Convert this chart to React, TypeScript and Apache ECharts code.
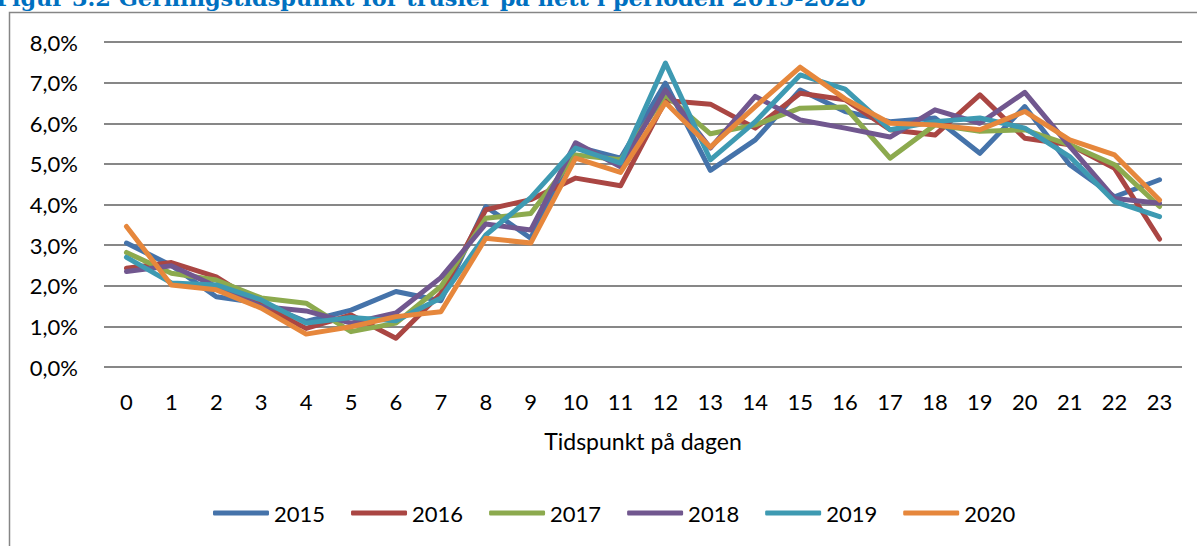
import React, { useEffect, useRef } from "react";
import * as echarts from "echarts";

const hours = ["0","1","2","3","4","5","6","7","8","9","10","11","12","13","14","15","16","17","18","19","20","21","22","23"];
const seriesNames = ["2015", "2016", "2017", "2018", "2019", "2020"];
const colors = ["#4573AA", "#AA4643", "#8CAA4E", "#71578F", "#3E9AB2", "#E6873C"];

const v2015 = [3.05, 2.5, 1.73, 1.57, 1.12, 1.4, 1.86, 1.63, 3.95, 3.17, 5.43, 5.14, 6.99, 4.84, 5.59, 6.82, 6.29, 6.04, 6.13, 5.26, 6.41, 4.98, 4.19, 4.61];
const v2016 = [2.43, 2.57, 2.22, 1.53, 0.95, 1.28, 0.71, 1.81, 3.87, 4.12, 4.65, 4.46, 6.56, 6.47, 5.88, 6.74, 6.58, 5.84, 5.71, 6.7, 5.63, 5.47, 4.89, 3.15];
const v2017 = [2.82, 2.31, 2.14, 1.7, 1.57, 0.87, 1.08, 1.98, 3.66, 3.78, 5.22, 5.1, 6.7, 5.74, 5.96, 6.37, 6.4, 5.14, 5.96, 5.8, 5.84, 5.47, 4.98, 3.95];
const v2018 = [2.35, 2.49, 1.98, 1.49, 1.38, 1.08, 1.33, 2.2, 3.52, 3.37, 5.52, 4.93, 6.82, 5.39, 6.66, 6.08, 5.88, 5.66, 6.33, 6.0, 6.76, 5.43, 4.15, 4.03];
const v2019 = [2.7, 2.07, 2.02, 1.65, 1.08, 1.22, 1.14, 1.7, 3.25, 4.17, 5.39, 5.02, 7.48, 5.1, 6.04, 7.19, 6.84, 5.84, 6.04, 6.13, 5.88, 5.18, 4.07, 3.7];
const v2020 = [3.46, 2.02, 1.9, 1.45, 0.81, 0.99, 1.24, 1.36, 3.17, 3.05, 5.14, 4.79, 6.51, 5.41, 6.41, 7.38, 6.6, 6.0, 5.96, 5.84, 6.29, 5.59, 5.22, 4.11];
const allValues = [v2015, v2016, v2017, v2018, v2019, v2020];

const yMin = 0;
const yMax = 8;
const yInterval = 1;
const titleText = "Figur 3.2 Gerningstidspunkt for trusler på nett i perioden 2015-2020";
const xAxisTitle = "Tidspunkt på dagen";

const FONT = "Lato, 'Liberation Sans', sans-serif";

export default function App() {
  const ref = useRef<HTMLDivElement>(null);
  useEffect(() => {
    if (!ref.current) return;
    const chart = echarts.init(ref.current, null, { renderer: "svg" });
    chart.setOption({
      animation: false,
      backgroundColor: "#ffffff",
      graphic: [
        {
          type: "rect",
          shape: { x: 9.5, y: 12.5, width: 1300, height: 700 },
          style: { fill: "none", stroke: "#868686", lineWidth: 1.5 },
          z: -10,
        },
        {
          type: "text",
          x: -4,
          y: 9,
          style: {
            text: titleText,
            font: "bold 22.4px 'DejaVu Serif', serif",
            fill: "#0070C0",
            verticalAlign: "bottom",
            align: "left",
          },
        },
      ],
      grid: { left: 104, right: 15, top: 42, bottom: 179, containLabel: false },
      legend: {
        data: seriesNames,
        bottom: 17,
        left: 208,
        itemWidth: 56,
        itemHeight: 5,
        itemGap: 26,
        icon: "roundRect",
        textStyle: { fontFamily: FONT, fontSize: 22, color: "#000" },
      },
      xAxis: {
        type: "category",
        data: hours,
        boundaryGap: true,
        axisLine: { show: false },
        axisTick: { show: false },
        axisLabel: { fontFamily: FONT, fontSize: 22, color: "#000", margin: 23, interval: 0 },
        name: xAxisTitle,
        nameLocation: "middle",
        nameGap: 62,
        nameTextStyle: { fontFamily: FONT, fontSize: 23, color: "#000", verticalAlign: "top" },
      },
      yAxis: {
        type: "value",
        min: yMin,
        max: yMax,
        interval: yInterval,
        axisLine: { show: false },
        axisTick: { show: false },
        splitLine: { lineStyle: { color: "#878787", width: 2 } },
        axisLabel: {
          fontFamily: FONT,
          fontSize: 22,
          color: "#000",
          margin: 26,
          formatter: (v: number) => v.toFixed(1).replace(".", ",") + "%",
        },
      },
      series: seriesNames.map((name, i) => ({
        name,
        type: "line",
        data: allValues[i],
        symbol: "none",
        color: colors[i],
        lineStyle: { width: 5, color: colors[i], cap: "round", join: "round" },
      })),
    });
    return () => chart.dispose();
  }, []);
  return (
    <div
      ref={ref}
      style={{ position: "absolute", left: 0, top: 0, width: 1197, height: 546 }}
    />
  );
}
